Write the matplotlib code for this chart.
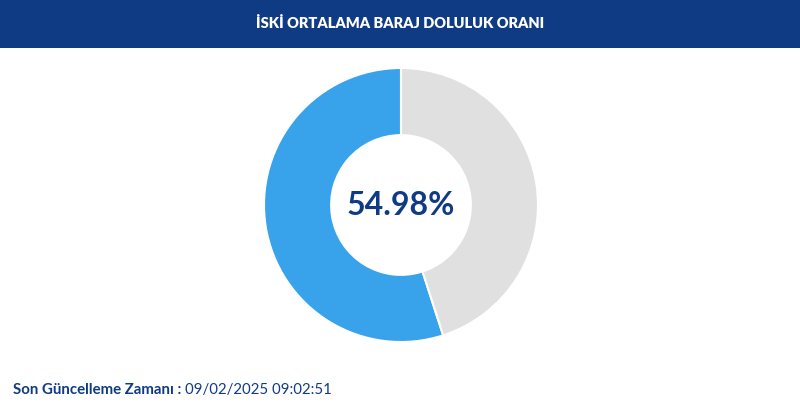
import matplotlib.pyplot as plt
from matplotlib.patches import Rectangle

# data
labels = ['Dolu', 'Boş']
values = [54.98, 45.02]
colors = ['#38a3ea', '#e0e0e0']
title = 'İSKİ ORTALAMA BARAJ DOLULUK ORANI'
update_label = 'Son Güncelleme Zamanı :'
update_time = '09/02/2025 09:02:51'

navy = '#0f3b84'
plt.rcParams['font.family'] = ['Lato', 'DejaVu Sans']

W, H = 800, 415
fig = plt.figure(figsize=(W / 100, H / 100), dpi=100)
fig.patch.set_facecolor('white')

# header bar
fig.patches.append(Rectangle((0, 1 - 48 / H), 1, 48 / H, transform=fig.transFigure,
                             facecolor=navy, edgecolor='none', zorder=0))
fig.text(0.5, 1 - 23 / H, title, color='white', fontsize=10.5, fontweight='heavy',
         ha='center', va='center')

# donut
cx, cy, r = 401, 205, 137
ax = fig.add_axes([(cx - r) / W, (H - cy - r) / H, 2 * r / W, 2 * r / H])
ax.pie(values, colors=colors, startangle=90, counterclock=True, radius=1,
       wedgeprops=dict(width=0.49, edgecolor='white', linewidth=1.5))
ax.set_xlim(-1.0, 1.0)
ax.set_ylim(-1.0, 1.0)
ax.axis('off')
ax.text(0, 0, f'{values[0]:.2f}%', color=navy, fontsize=23, fontweight='bold',
        ha='center', va='center')

# footer
t = fig.text(13 / W, 1 - 390 / H, update_label + ' ', color=navy, fontsize=10.8,
             fontweight='bold', ha='left', va='center')
fig.canvas.draw()
bb = t.get_window_extent()
fig.text(bb.x1 / W, 1 - 390 / H, update_time, color=navy, fontsize=10.8,
         ha='left', va='center')

fig.savefig('out.png', dpi=100)
